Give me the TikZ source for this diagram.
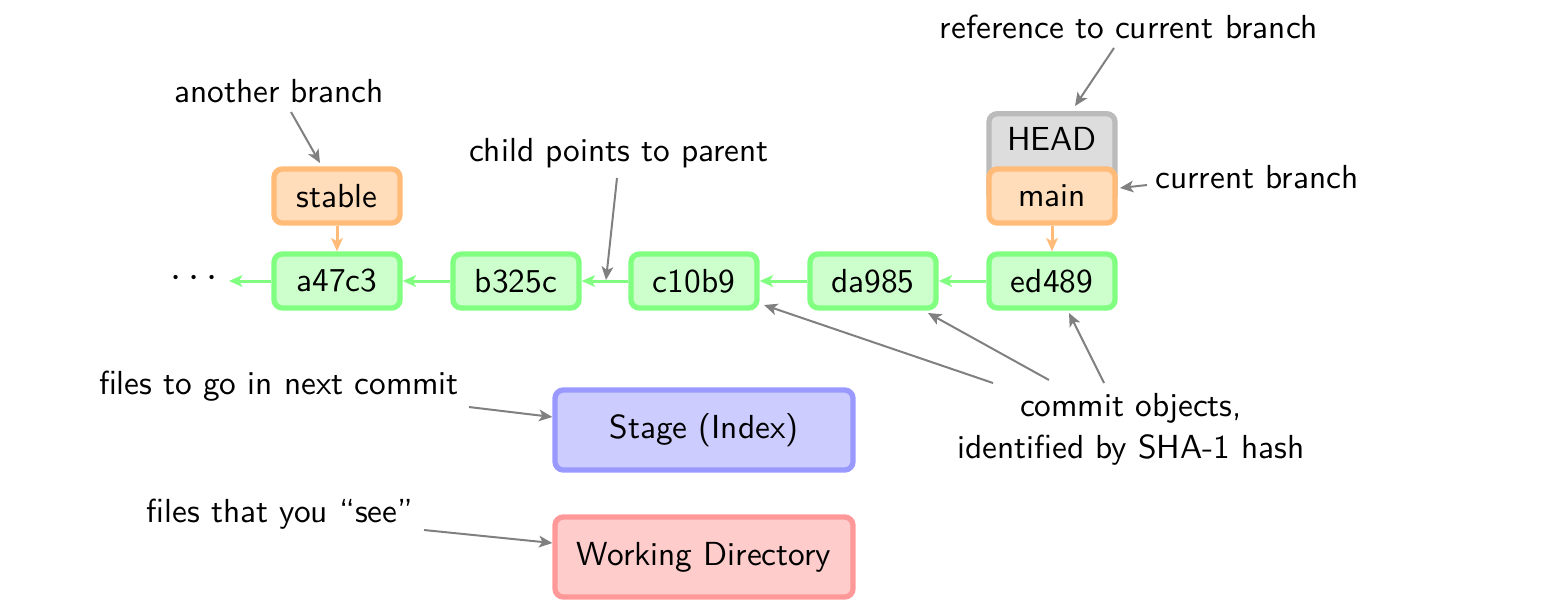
\documentclass[tikz,border=0pt]{standalone}
\usepackage{fontspec}
\usetikzlibrary{arrows.meta}
\definecolor{gstroke}{HTML}{80FF80}
\definecolor{gfill}{HTML}{CCFFCC}
\definecolor{ostroke}{HTML}{FFBB77}
\definecolor{ofill}{HTML}{FFDDBB}
\definecolor{hstroke}{HTML}{BBBBBB}
\definecolor{hfill}{HTML}{DDDDDD}
\definecolor{bstroke}{HTML}{9999FF}
\definecolor{bfill}{HTML}{CCCCFF}
\definecolor{rstroke}{HTML}{FF9999}
\definecolor{rfill}{HTML}{FFCCCC}
\begin{document}
\begin{tikzpicture}[x=0.3pt,y=-0.3pt,font=\sffamily,
  box/.style={rounded corners=2.5pt,line width=1.6pt,minimum width=37.8pt,minimum height=16.2pt,inner sep=0pt},
  commit/.style={box,draw=gstroke,fill=gfill},
  branch/.style={box,draw=ostroke,fill=ofill},
  headbox/.style={box,draw=hstroke,fill=hfill},
  area/.style={box,minimum width=89.4pt,minimum height=24pt},
  lbl/.style={inner sep=0pt},
  parentarrow/.style={draw=gstroke,line width=0.9pt,-{Stealth[length=4pt,width=3.5pt,inset=1pt]}},
  brarrow/.style={draw=ostroke,line width=0.9pt,-{Stealth[length=4pt,width=3.5pt,inset=1pt]}},
  note/.style={draw=black!50,line width=0.6pt,-{Stealth[length=4pt,width=3.5pt,inset=1pt]}}]
\useasboundingbox (0,0) rectangle (1547,611);
% HEAD box behind main
\node[headbox,minimum height=27pt,anchor=north] (head) at (1052,111) {};
\node[lbl] (headtxt) at (1052,139) {HEAD};
% commits
\node[commit] (a) at (337,281) {a47c3};
\node[commit] (b) at (516,281) {b325c};
\node[commit] (c) at (694,281) {c10b9};
\node[commit] (d) at (873,281) {da985};
\node[commit] (e) at (1052,281) {ed489};
\node[lbl,font=\large] (dots) at (194,279) {$\cdots$};
% branches
\node[branch] (stable) at (337,196) {stable};
\node[branch] (main) at (1052,196) {main};
% areas
\node[area,draw=bstroke,fill=bfill] (stage) at (704,430) {Stage (Index)};
\node[area,draw=rstroke,fill=rfill] (wd) at (704,557) {Working Directory};
% parent connectors
\draw[parentarrow] (e) -- (d);
\draw[parentarrow] (d) -- (c);
\draw[parentarrow] (c) -- (b);
\draw[parentarrow] (b) -- (a);
\draw[parentarrow] (a.west) -- (229,281) coordinate (dotsend);
\draw[brarrow] (stable) -- (a);
\draw[brarrow] (main) -- (e);
% labels
\node[lbl] (l1) at (279,91) {another branch};
\node[lbl] (l2) at (619,153) {child points to parent};
\node[lbl] (l3) at (1129,27) {reference to current branch};
\node[lbl] (l4) at (1257,177) {current branch};
\node[lbl,align=center] (l5) at (1131,429) {commit objects,\\[0.6pt]identified by SHA-1 hash};
\node[lbl] (l6) at (279,386) {files to go in next commit};
\node[lbl] (l7) at (280,514) {files that you ``see''};
% note arrows
\coordinate (p2) at (606,280);
\draw[note] (291,112) -- (320,163);
\draw[note] (617,178) -- (p2);
\draw[note] (1114,48) -- (1075,106);
\draw[note] (1147,185) -- (1120,188);
\draw[note] (993,383) -- (764,305);
\draw[note] (1049,380) -- (928,313);
\draw[note] (1104,383) -- (1069,313);
\draw[note] (469,407) -- (stage.west |- 550,417);
\draw[note] (424,530) -- (wd.west |- 550,543);
\end{tikzpicture}
\end{document}
